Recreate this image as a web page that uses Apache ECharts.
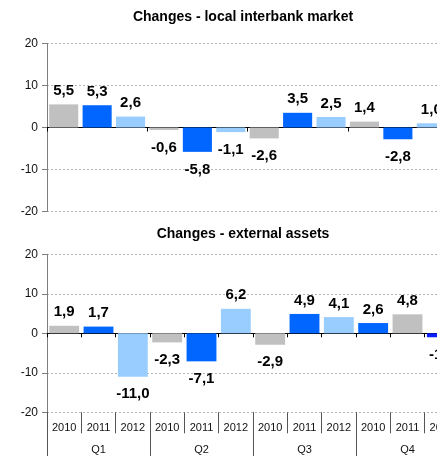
<!doctype html>
<html lang="en">
<head>
<meta charset="UTF-8">
<title>Changes</title>
<style>
    html, body { margin: 0; padding: 0; background: #fff; overflow: hidden; }
    #main { width: 480px; height: 456px; }
</style>
</head>
<body>
<div id="main"></div>
<script src="https://cdn.jsdelivr.net/npm/echarts@6/dist/echarts.min.js"></script>
<script type="text/javascript">
// categories
var quarters = ['Q1', 'Q2', 'Q3', 'Q4'];
var years = ['2010', '2011', '2012', '2010', '2011', '2012', '2010', '2011', '2012', '2010', '2011', '2012'];
var barCats = ['Q1 2010', 'Q1 2011', 'Q1 2012', 'Q2 2010', 'Q2 2011', 'Q2 2012',
               'Q3 2010', 'Q3 2011', 'Q3 2012', 'Q4 2010', 'Q4 2011', 'Q4 2012'];

// values
var localMarket = [5.5, 5.3, 2.6, -0.6, -5.8, -1.1, -2.6, 3.5, 2.5, 1.4, -2.8, 1.0];
var externalAssets = [1.9, 1.7, -11.0, -2.3, -7.1, 6.2, -2.9, 4.9, 4.1, 2.6, 4.8, -1.0];

// y axis
var yMin = -20, yMax = 20, yStep = 10;

// bar colours
var grey = '#c0c0c0', blue = '#0066ff', light = '#99ccff', dark = '#0a1eff';
var localColors = [grey, blue, light, grey, blue, light, grey, blue, light, grey, blue, light];
var externalColors = [grey, blue, light, grey, blue, light, grey, blue, light, blue, grey, dark];

var font = '"Liberation Sans", Arial, sans-serif';

function items(values, colors) {
    return values.map(function (v, i) {
        var neg = v < 0;
        return {
            value: v,
            itemStyle: { color: colors[i] },
            label: { position: neg ? 'bottom' : 'top', distance: neg ? 10 : 6 }
        };
    });
}

function valueAxis(idx) {
    return {
        type: 'value', gridIndex: idx,
        min: yMin, max: yMax, interval: yStep,
        axisLine: { show: true, lineStyle: { color: '#7f7f7f', width: 1 } },
        axisTick: { show: true, length: 5, lineStyle: { color: '#7f7f7f' } },
        axisLabel: { fontSize: 12, color: '#111', margin: 9, fontFamily: font },
        splitLine: { show: true, lineStyle: { color: '#b4b4b4', type: [2, 2] } }
    };
}

function zeroAxis(idx, tickEvery) {
    return {
        type: 'category', gridIndex: idx, data: barCats, position: 'bottom',
        axisLine: { show: true, onZero: true, lineStyle: { color: '#000', width: 1 } },
        axisTick: { show: true, interval: tickEvery, length: 4, lineStyle: { color: '#000' } },
        axisLabel: { show: false },
        splitLine: { show: false }
    };
}

var barLabel = {
    show: true,
    fontSize: 15, fontWeight: 'bold', color: '#000', fontFamily: font,
    formatter: function (p) { return p.value.toFixed(1).replace('.', ','); }
};

// the chart is wider than the window, the right end is cut off like in the original
var myChart = echarts.init(document.getElementById('main'));

var option = {
    animation: false,
    backgroundColor: '#fff',
    title: [
        {
            text: 'Changes - local interbank market',
            left: 243, top: 10, padding: 0, textAlign: 'center',
            textStyle: { fontSize: 14, fontWeight: 'bold', color: '#000', fontFamily: font }
        },
        {
            text: 'Changes - external assets',
            left: 243, top: 227, padding: 0, textAlign: 'center',
            textStyle: { fontSize: 14, fontWeight: 'bold', color: '#000', fontFamily: font }
        }
    ],
    grid: [
        { left: 47, width: 401, top: 43.5, height: 168 },
        { left: 47, width: 412, top: 254.3, height: 158 }
    ],
    xAxis: [
        zeroAxis(0, 2),
        zeroAxis(1, 0),
        {
            type: 'category', gridIndex: 1, data: years, position: 'bottom',
            axisLine: { show: false, onZero: false },
            axisTick: { show: true, interval: 0, length: 21, lineStyle: { color: '#555' } },
            axisLabel: { interval: 0, fontSize: 11, color: '#111', margin: 10, fontFamily: font },
            splitLine: { show: false }
        },
        {
            type: 'category', gridIndex: 1, data: quarters, position: 'bottom',
            axisLine: { show: false, onZero: false },
            axisTick: { show: true, interval: 0, length: 44, lineStyle: { color: '#555' } },
            axisLabel: { interval: 0, fontSize: 11, color: '#111', margin: 32, fontFamily: font },
            splitLine: { show: false }
        }
    ],
    yAxis: [valueAxis(0), valueAxis(1)],
    series: [
        {
            name: 'Changes - local interbank market',
            type: 'bar', xAxisIndex: 0, yAxisIndex: 0,
            barCategoryGap: '13%',
            label: barLabel,
            data: items(localMarket, localColors)
        },
        {
            name: 'Changes - external assets',
            type: 'bar', xAxisIndex: 1, yAxisIndex: 1,
            barCategoryGap: '13%',
            label: barLabel,
            data: items(externalAssets, externalColors)
        }
    ]
};

myChart.setOption(option);
</script>
</body>
</html>
